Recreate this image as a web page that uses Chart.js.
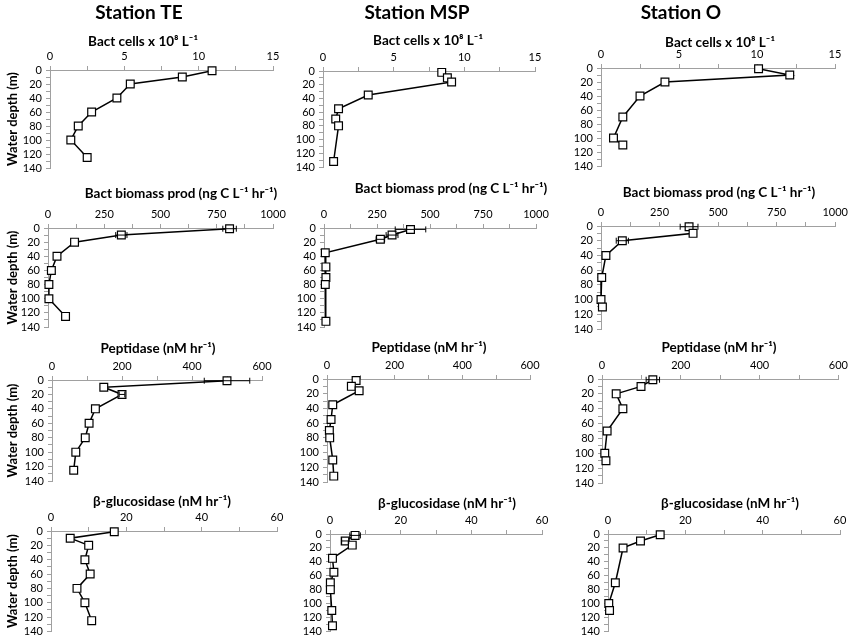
<!DOCTYPE html>
<html><head><meta charset="utf-8">
<script src="https://cdn.jsdelivr.net/npm/chart.js@4.4.0/dist/chart.umd.min.js"></script>
<style>
html,body{margin:0;padding:0;background:#fff;overflow:hidden;}
#wrap{position:relative;width:851px;height:642px;overflow:hidden;}
canvas{position:absolute;left:0;top:0;}
</style></head><body><div id="wrap"></div>
<script>
// ---------------- DATA ----------------
const stations = ['Station TE', 'Station MSP', 'Station O'];
const variables = ['Bact cells x 10⁸ L⁻¹', 'Bact biomass prod (ng C L⁻¹ hr⁻¹)', 'Peptidase (nM hr⁻¹)', 'β-glucosidase (nM hr⁻¹)'];
const xMax = [15, 1000, 600, 60];
const xMinorStep = [2.5, 125, 100, 10];
const xMajorStep = [5, 250, 200, 20];
const depthMax = 140;
const depthMinorStep = 10;
const depthMajorStep = 20;
const depthTitle = 'Water depth (m)';

// Station TE
const teDepth = [1, 10, 20, 40, 60, 80, 100, 125];
const teCells = [10.9, 8.9, 5.4, 4.5, 2.8, 1.9, 1.4, 2.5];
const teProd = [807, 326, 118, 40, 15, 4, 4, 78];
const teProdErr = [30, 25, 0, 0, 0, 0, 0, 0];
const tePep = [500, 148, 200, 124, 106, 95, 68, 62];
const tePepErr = [65, 0, 8, 0, 0, 0, 0, 0];
const teGlu = [16.8, 5.1, 10.0, 9.0, 10.4, 6.9, 9.0, 10.8];

// Station MSP
const mspDepthA = [2, 10, 16, 35, 55, 70, 80, 132];
const mspDepthB = [2, 10, 16, 35, 55, 70, 80, 110, 132];
const mspCells = [8.4, 8.8, 9.1, 3.2, 1.1, 0.9, 1.1, 0.75];
const mspProd = [408, 321, 266, 6, 9, 9, 6, 9];
const mspProdErr = [72, 28, 20, 0, 0, 0, 0, 0];
const mspPep = [86, 72, 95, 17, 12, 7, 8, 17, 20];
const mspGlu = [7.1, 4.3, 6.3, 0.7, 1.1, 0.1, 0.1, 0.5, 0.7];
const mspGluErr = [1.5, 1, 0, 0, 0, 0, 0, 0, 0];

// Station O
const oDepth = [1, 10, 20, 40, 70, 100, 110];
const oDepthGlu = [1, 10, 20, 70, 100, 110];
const oCells = [10.1, 12.1, 4.1, 2.5, 1.4, 0.8, 1.4];
const oProd = [376, 393, 91, 21, 3, 0, 6];
const oProdErr = [38, 0, 26, 0, 0, 0, 0];
const oPep = [129, 99, 36, 53, 13, 7, 10];
const oPepErr = [17, 0, 0, 0, 0, 0, 0];
const oGlu = [13.5, 8.4, 3.9, 1.9, 0.2, 0.4];

// panel series: [row][col]
const panelSeries = [
  [[teDepth, teCells, null], [mspDepthA, mspCells, null], [oDepth, oCells, null]],
  [[teDepth, teProd, teProdErr], [mspDepthA, mspProd, mspProdErr], [oDepth, oProd, oProdErr]],
  [[teDepth, tePep, tePepErr], [mspDepthB, mspPep, null], [oDepth, oPep, oPepErr]],
  [[teDepth, teGlu, null], [mspDepthB, mspGlu, mspGluErr], [oDepthGlu, oGlu, null]]
];

// ---------------- LAYOUT ----------------
const W = 851, H = 642;
// plot areas: [left, right, top, bottom]
const plotBox = [
  [[50, 273, 70, 168], [323, 535, 71, 167], [601, 835, 68, 166]],
  [[48, 273, 228, 327], [324, 536, 228, 327], [601, 836, 226, 329]],
  [[52, 262, 380, 481], [327, 530, 379, 482], [602, 839, 379, 483]],
  [[51, 277, 531, 634], [330, 542, 534, 633], [608, 840, 534, 637]]
];
// axis title centres [x, y]
const titlePos = [
  [[143, 42], [428, 41], [720, 43]],
  [[181, 194], [451, 189], [719, 193]],
  [[158, 349], [429, 348], [719, 348]],
  [[162, 502], [447, 504], [730, 504]]
];
const stationPos = [[139, 13], [417, 13], [681, 13]];

const FONT = 'Lato, "Open Sans", "DejaVu Sans", sans-serif';
const AXIS_COLOR = '#a0a0a0';
const TEXT_COLOR = '#000';

const panelTextPlugin = {
  id: 'panelText',
  afterDraw(chart, args, opts) {
    const ctx = chart.ctx;
    ctx.save();
    ctx.fillStyle = '#000';
    ctx.textAlign = 'center';
    ctx.textBaseline = 'middle';
    ctx.font = 'bold 13.5px ' + FONT;
    ctx.fillText(opts.text, opts.x, opts.y);
    if (opts.header) {
      ctx.font = 'bold 19px ' + FONT;
      ctx.fillText(opts.header, opts.hx, opts.hy);
    }
    ctx.restore();
  }
};

const errorBarPlugin = {
  id: 'errorBars',
  afterDatasetsDraw(chart) {
    const ctx = chart.ctx;
    const xs = chart.scales.x, ys = chart.scales.y;
    chart.data.datasets.forEach(ds => {
      if (!ds.errors) return;
      ctx.save();
      ctx.strokeStyle = '#000';
      ctx.lineWidth = 1;
      ds.data.forEach((p, i) => {
        const e = ds.errors[i];
        if (!e) return;
        const y = ys.getPixelForValue(p.y);
        const x1 = xs.getPixelForValue(p.x - e);
        const x2 = xs.getPixelForValue(p.x + e);
        ctx.beginPath();
        ctx.moveTo(x1, y); ctx.lineTo(x2, y);
        ctx.moveTo(x1, y - 3); ctx.lineTo(x1, y + 3);
        ctx.moveTo(x2, y - 3); ctx.lineTo(x2, y + 3);
        ctx.stroke();
      });
      ctx.restore();
    });
  }
};

const wrap = document.getElementById('wrap');
const tickFont = { family: FONT, size: 11 };

function isMajor(v, step) {
  const r = v / step;
  return Math.abs(r - Math.round(r)) < 1e-6;
}

for (let r = 0; r < 4; r++) {
  for (let c = 0; c < 3; c++) {
    const [PL, PR, PT, PB] = plotBox[r][c];
    const [depths, vals, errs] = panelSeries[r][c];
    const yW = c === 0 ? PL - 5 : 40;
    const xH = 20;
    const cv = document.createElement('canvas');
    cv.width = W; cv.height = H;
    cv.style.width = W + 'px'; cv.style.height = H + 'px';
    wrap.appendChild(cv);
    const major = xMajorStep[r];
    new Chart(cv, {
      type: 'scatter',
      data: {
        datasets: [{
          data: depths.map((d, i) => ({ x: vals[i], y: d })),
          errors: errs,
          showLine: true,
          borderColor: '#000',
          borderWidth: 1.5,
          pointStyle: 'rect',
          pointRadius: 5.5,
          pointHoverRadius: 5.5,
          pointBackgroundColor: '#fff',
          pointBorderColor: '#000',
          pointBorderWidth: 1.2,
          clip: false
        }]
      },
      options: {
        responsive: false,
        animation: false,
        events: [],
        layout: { padding: { left: PL - yW, right: W - PR, top: PT - xH, bottom: H - PB } },
        plugins: {
          legend: { display: false },
          tooltip: { enabled: false },
          panelText: {
            text: variables[r], x: titlePos[r][c][0], y: titlePos[r][c][1],
            header: r === 0 ? stations[c] : null,
            hx: stationPos[c][0], hy: stationPos[c][1]
          }
        },
        scales: {
          x: {
            type: 'linear', position: 'top', min: 0, max: xMax[r],
            ticks: {
              stepSize: xMinorStep[r], autoSkip: false, maxRotation: 0, padding: 3,
              font: tickFont, color: TEXT_COLOR,
              callback: v => isMajor(v, major) ? String(v) : ''
            },
            grid: { display: true, drawOnChartArea: false, drawTicks: true, tickLength: 4, color: AXIS_COLOR },
            border: { display: true, color: AXIS_COLOR, width: 1 },
            afterFit: s => { s.height = xH; }
          },
          y: {
            type: 'linear', position: 'left', reverse: true, min: 0, max: depthMax,
            ticks: {
              stepSize: depthMinorStep, autoSkip: false, padding: 4,
              font: tickFont, color: TEXT_COLOR,
              callback: v => isMajor(v, depthMajorStep) ? String(v) : ''
            },
            grid: { display: true, drawOnChartArea: false, drawTicks: true, tickLength: 4, color: AXIS_COLOR },
            border: { display: true, color: AXIS_COLOR, width: 1 },
            title: { display: c === 0, text: depthTitle, color: '#000', padding: 0, font: { family: FONT, size: 13, weight: 'bold' } },
            afterFit: s => { s.width = yW; }
          }
        }
      },
      plugins: [panelTextPlugin, errorBarPlugin]
    });
  }
}
</script>
</body></html>
